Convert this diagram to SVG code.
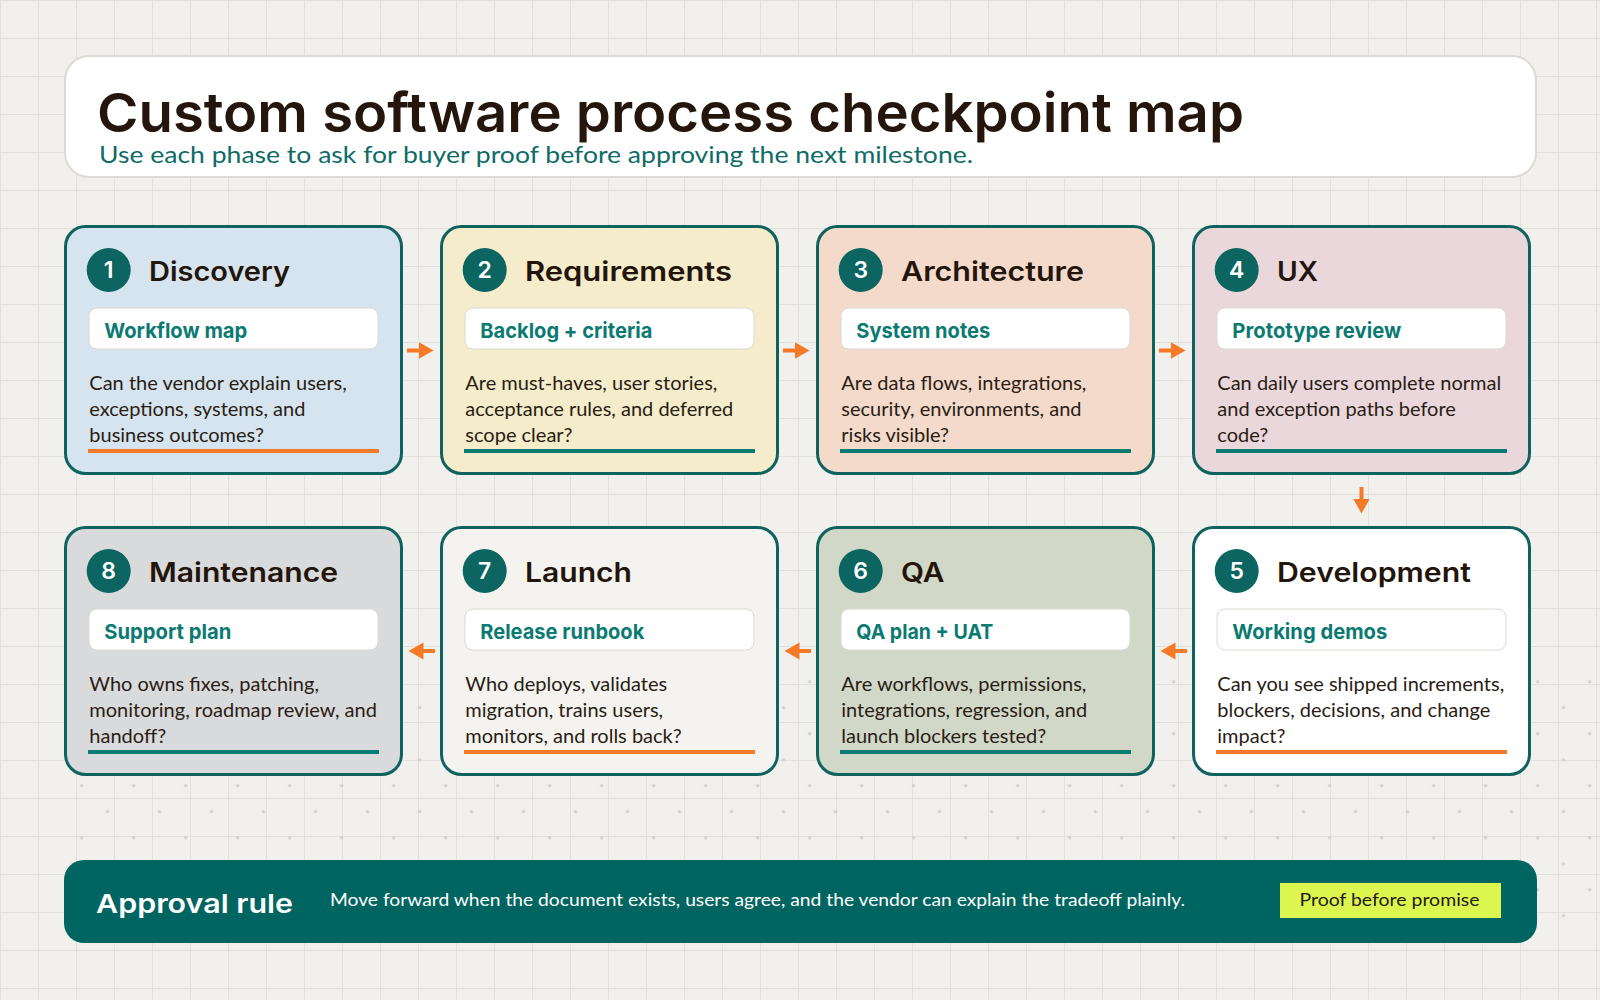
<svg xmlns="http://www.w3.org/2000/svg" width="1600" height="1000" viewBox="0 0 1600 1000">
<defs>
<pattern id="grid" x="0" y="0" width="38" height="38" patternUnits="userSpaceOnUse">
<rect x="0" y="0" width="38" height="1" fill="#e2e0da"/>
<rect x="0" y="0" width="1" height="38" fill="#e2e0da"/>
</pattern>
<pattern id="dots" x="68.6" y="668.7" width="52" height="52" patternUnits="userSpaceOnUse">
<circle cx="13" cy="13" r="1.6" fill="#cfcac2"/>
<circle cx="39" cy="39" r="1.6" fill="#cfcac2"/>
</pattern>
<marker id="head" markerUnits="userSpaceOnUse" markerWidth="16" markerHeight="18" refX="1" refY="8.5" orient="auto">
<path d="M0,0 L15,8.5 L0,17 Z" fill="#f47a28"/>
</marker>
<style>
.card{stroke:#0f625d;stroke-width:3}
.num{fill:#0c6560}
.numt{font-family:Inter,"Liberation Sans",sans-serif;font-weight:600;font-size:23px;fill:#ffffff;text-anchor:middle}
.head{font-family:Inter,"Liberation Sans",sans-serif;font-weight:600;font-size:26.5px;fill:#23150b}
.lbox{fill:#ffffff;stroke:#dcd9d3;stroke-width:1}
.lbl{font-family:Inter,"Liberation Sans",sans-serif;font-weight:700;font-size:20.5px;fill:#0b7a72}
.body{font-family:Lato,"Liberation Sans",sans-serif;font-size:20px;fill:#2a1d14}
.ulo{stroke:#f47a2a;stroke-width:4;fill:none}
.ult{stroke:#0a7b73;stroke-width:4;fill:none}
.arr{stroke:#f47a28;stroke-width:4;fill:none;marker-end:url(#head)}
</style>
</defs>
<rect x="0" y="0" width="1600" height="1000" fill="#f1f0ec"/>
<rect x="0" y="0" width="1600" height="1000" fill="url(#grid)"/>
<rect x="75" y="675" width="1525" height="250" fill="url(#dots)"/>

<g id="header">
<rect x="65" y="56" width="1471" height="121" rx="24" fill="#ffffff" stroke="#dcdad5" stroke-width="2"/>
<text x="97" y="132" font-family="Inter, 'Liberation Sans', sans-serif" font-weight="600" font-size="54" fill="#24160c" textLength="1147" lengthAdjust="spacingAndGlyphs">Custom software process checkpoint map</text>
<text x="99" y="163" font-family="Lato, 'Liberation Sans', sans-serif" font-size="24" fill="#0e6b66" textLength="874" lengthAdjust="spacingAndGlyphs">Use each phase to ask for buyer proof before approving the next milestone.</text>
</g>

<g id="card-1" transform="translate(65.5 226.5)">
<rect class="card" x="0" y="0" width="336" height="247" rx="20" fill="#d5e4ef"/>
<circle class="num" cx="43.2" cy="43.5" r="22"/>
<text class="numt" x="43.2" y="51.5">1</text>
<text class="head" x="83.5" y="54.5" textLength="141" lengthAdjust="spacingAndGlyphs">Discovery</text>
<rect class="lbox" x="23.5" y="81.5" width="289" height="41" rx="8"/>
<text class="lbl" x="38.8" y="111.8" textLength="143" lengthAdjust="spacingAndGlyphs">Workflow map</text>
<text class="body" x="23.8" y="163.5">Can the vendor explain users,</text>
<text class="body" x="23.8" y="189.3">exceptions, systems, and</text>
<text class="body" x="23.8" y="215">business outcomes?</text>
<path class="ulo" d="M22.5,224.5 H313.5"/>
</g>

<g id="card-2" transform="translate(441.5 226.5)">
<rect class="card" x="0" y="0" width="336" height="247" rx="20" fill="#f4ecca"/>
<circle class="num" cx="43.2" cy="43.5" r="22"/>
<text class="numt" x="43.2" y="51.5">2</text>
<text class="head" x="83.5" y="54.5" textLength="207" lengthAdjust="spacingAndGlyphs">Requirements</text>
<rect class="lbox" x="23.5" y="81.5" width="289" height="41" rx="8"/>
<text class="lbl" x="38.8" y="111.8" textLength="172" lengthAdjust="spacingAndGlyphs">Backlog + criteria</text>
<text class="body" x="23.8" y="163.5">Are must-haves, user stories,</text>
<text class="body" x="23.8" y="189.3">acceptance rules, and deferred</text>
<text class="body" x="23.8" y="215">scope clear?</text>
<path class="ult" d="M22.5,224.5 H313.5"/>
</g>

<g id="card-3" transform="translate(817.5 226.5)">
<rect class="card" x="0" y="0" width="336" height="247" rx="20" fill="#f4dacb"/>
<circle class="num" cx="43.2" cy="43.5" r="22"/>
<text class="numt" x="43.2" y="51.5">3</text>
<text class="head" x="83.5" y="54.5" textLength="183" lengthAdjust="spacingAndGlyphs">Architecture</text>
<rect class="lbox" x="23.5" y="81.5" width="289" height="41" rx="8"/>
<text class="lbl" x="38.8" y="111.8" textLength="134" lengthAdjust="spacingAndGlyphs">System notes</text>
<text class="body" x="23.8" y="163.5">Are data flows, integrations,</text>
<text class="body" x="23.8" y="189.3">security, environments, and</text>
<text class="body" x="23.8" y="215">risks visible?</text>
<path class="ult" d="M22.5,224.5 H313.5"/>
</g>

<g id="card-4" transform="translate(1193.5 226.5)">
<rect class="card" x="0" y="0" width="336" height="247" rx="20" fill="#ead7dc"/>
<circle class="num" cx="43.2" cy="43.5" r="22"/>
<text class="numt" x="43.2" y="51.5">4</text>
<text class="head" x="83.5" y="54.5" textLength="41" lengthAdjust="spacingAndGlyphs">UX</text>
<rect class="lbox" x="23.5" y="81.5" width="289" height="41" rx="8"/>
<text class="lbl" x="38.8" y="111.8" textLength="169" lengthAdjust="spacingAndGlyphs">Prototype review</text>
<text class="body" x="23.8" y="163.5">Can daily users complete normal</text>
<text class="body" x="23.8" y="189.3">and exception paths before</text>
<text class="body" x="23.8" y="215">code?</text>
<path class="ult" d="M22.5,224.5 H313.5"/>
</g>

<g id="card-5" transform="translate(1193.5 527.5)">
<rect class="card" x="0" y="0" width="336" height="247" rx="20" fill="#ffffff"/>
<circle class="num" cx="43.2" cy="43.5" r="22"/>
<text class="numt" x="43.2" y="51.5">5</text>
<text class="head" x="83.5" y="54.5" textLength="194" lengthAdjust="spacingAndGlyphs">Development</text>
<rect class="lbox" x="23.5" y="81.5" width="289" height="41" rx="8"/>
<text class="lbl" x="38.8" y="111.8" textLength="155" lengthAdjust="spacingAndGlyphs">Working demos</text>
<text class="body" x="23.8" y="163.5">Can you see shipped increments,</text>
<text class="body" x="23.8" y="189.3">blockers, decisions, and change</text>
<text class="body" x="23.8" y="215">impact?</text>
<path class="ulo" d="M22.5,224.5 H313.5"/>
</g>

<g id="card-6" transform="translate(817.5 527.5)">
<rect class="card" x="0" y="0" width="336" height="247" rx="20" fill="#d1d8c8"/>
<circle class="num" cx="43.2" cy="43.5" r="22"/>
<text class="numt" x="43.2" y="51.5">6</text>
<text class="head" x="83.5" y="54.5" textLength="43.5" lengthAdjust="spacingAndGlyphs">QA</text>
<rect class="lbox" x="23.5" y="81.5" width="289" height="41" rx="8"/>
<text class="lbl" x="38.8" y="111.8" textLength="137" lengthAdjust="spacingAndGlyphs">QA plan + UAT</text>
<text class="body" x="23.8" y="163.5">Are workflows, permissions,</text>
<text class="body" x="23.8" y="189.3">integrations, regression, and</text>
<text class="body" x="23.8" y="215">launch blockers tested?</text>
<path class="ult" d="M22.5,224.5 H313.5"/>
</g>

<g id="card-7" transform="translate(441.5 527.5)">
<rect class="card" x="0" y="0" width="336" height="247" rx="20" fill="#f4f3ef"/>
<circle class="num" cx="43.2" cy="43.5" r="22"/>
<text class="numt" x="43.2" y="51.5">7</text>
<text class="head" x="83.5" y="54.5" textLength="107" lengthAdjust="spacingAndGlyphs">Launch</text>
<rect class="lbox" x="23.5" y="81.5" width="289" height="41" rx="8"/>
<text class="lbl" x="38.8" y="111.8" textLength="164" lengthAdjust="spacingAndGlyphs">Release runbook</text>
<text class="body" x="23.8" y="163.5">Who deploys, validates</text>
<text class="body" x="23.8" y="189.3">migration, trains users,</text>
<text class="body" x="23.8" y="215">monitors, and rolls back?</text>
<path class="ulo" d="M22.5,224.5 H313.5"/>
</g>

<g id="card-8" transform="translate(65.5 527.5)">
<rect class="card" x="0" y="0" width="336" height="247" rx="20" fill="#d9dadc"/>
<circle class="num" cx="43.2" cy="43.5" r="22"/>
<text class="numt" x="43.2" y="51.5">8</text>
<text class="head" x="83.5" y="54.5" textLength="189" lengthAdjust="spacingAndGlyphs">Maintenance</text>
<rect class="lbox" x="23.5" y="81.5" width="289" height="41" rx="8"/>
<text class="lbl" x="38.8" y="111.8" textLength="127" lengthAdjust="spacingAndGlyphs">Support plan</text>
<text class="body" x="23.8" y="163.5">Who owns fixes, patching,</text>
<text class="body" x="23.8" y="189.3">monitoring, roadmap review, and</text>
<text class="body" x="23.8" y="215">handoff?</text>
<path class="ult" d="M22.5,224.5 H313.5"/>
</g>

<g id="connectors">
<path class="arr" d="M407,350.5 H419.5"/>
<path class="arr" d="M783,350.5 H795.5"/>
<path class="arr" d="M1159,350.5 H1171.5"/>
<path class="arr" d="M1361.5,487 V499.5"/>
<path class="arr" d="M1187,651 H1174.5"/>
<path class="arr" d="M811,651 H798.5"/>
<path class="arr" d="M435,651 H422.5"/>
</g>

<g id="approval-rule">
<rect x="64" y="860" width="1473" height="83" rx="20" fill="#006560"/>
<text x="96" y="913" font-family="Inter, 'Liberation Sans', sans-serif" font-weight="600" font-size="26" fill="#ffffff" textLength="197" lengthAdjust="spacingAndGlyphs">Approval rule</text>
<text x="330" y="906" font-family="Lato, 'Liberation Sans', sans-serif" font-size="18" fill="#ffffff" textLength="855" lengthAdjust="spacingAndGlyphs">Move forward when the document exists, users agree, and the vendor can explain the tradeoff plainly.</text>
<rect x="1280" y="883" width="221" height="35" fill="#dcf650"/>
<text x="1299.5" y="906" font-family="Lato, 'Liberation Sans', sans-serif" font-size="18" fill="#231a0c" textLength="180" lengthAdjust="spacingAndGlyphs">Proof before promise</text>
</g>
</svg>
